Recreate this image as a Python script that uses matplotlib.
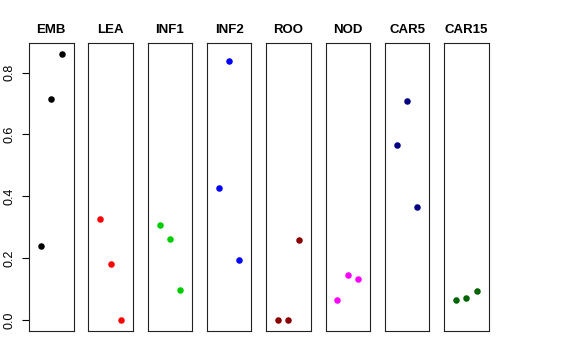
import numpy as np
import matplotlib
matplotlib.use("Agg")
import matplotlib.pyplot as plt

plt.rcParams["font.family"] = ["Liberation Sans", "DejaVu Sans"]

tissues = ["EMB", "LEA", "INF1", "INF2", "ROO", "NOD", "CAR5", "CAR15"]
colors = ["black", "red", "#00CD00", "blue", "#8B0000", "magenta", "#000080", "#006400"]
x_pos = [1, 2, 3]
values = {
    "EMB": [0.241, 0.716, 0.860],
    "LEA": [0.328, 0.181, 0.0],
    "INF1": [0.308, 0.262, 0.099],
    "INF2": [0.428, 0.838, 0.195],
    "ROO": [0.0, 0.0, 0.259],
    "NOD": [0.066, 0.145, 0.134],
    "CAR5": [0.567, 0.709, 0.367],
    "CAR15": [0.065, 0.073, 0.095],
}
yticks = [0.0, 0.2, 0.4, 0.6, 0.8]

W, H = 576, 360
fig = plt.figure(figsize=(W / 100, H / 100), dpi=100)

# panel geometry in pixels
left0 = 29.0
pw = 44.5
step = 59.3
top = 43.3
bottom = 331.0

ymax = max(max(v) for v in values.values())
ylim = (-0.04 * ymax, ymax * 1.04)

for i, name in enumerate(tissues):
    x0 = left0 + i * step
    ax = fig.add_axes([x0 / W, 1 - bottom / H, pw / W, (bottom - top) / H])
    ax.scatter(x_pos, values[name], s=22, color=colors[i], linewidths=0, zorder=3)
    ax.set_xlim(-0.16, 4.16)
    ax.set_ylim(*ylim)
    ax.set_xticks([])
    ax.set_title(name, fontsize=9.5, fontweight="bold", pad=7.5)
    for sp in ax.spines.values():
        sp.set_linewidth(0.8)
        sp.set_color("#222222")
    if i == 0:
        ax.set_yticks(yticks)
        ax.set_yticklabels([f"{t:.1f}" for t in yticks], rotation=90, va="center")
        ax.tick_params(axis="y", length=5, width=0.8, pad=5, labelsize=9)
    else:
        ax.set_yticks([])

fig.savefig("out.png", dpi=100)
